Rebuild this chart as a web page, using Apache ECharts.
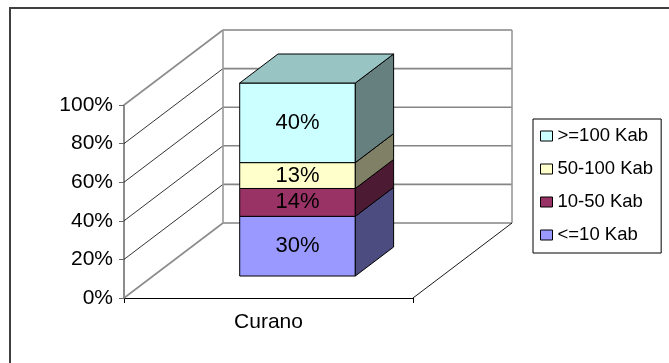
<!DOCTYPE html>
<html>
<head>
<meta charset="utf-8">
<script src="https://cdn.jsdelivr.net/npm/echarts@6/dist/echarts.min.js"></script>
<style>
  html, body { margin: 0; padding: 0; background: #fff; }
  #chart { width: 669px; height: 363px; }
</style>
</head>
<body>
<div id="chart"></div>
<script>
// Share of settlements by size class (100% stacked column)
const categories = ['Curano'];
const seriesNames = ['<=10 Kab', '10-50 Kab', '50-100 Kab', '>=100 Kab'];
const sizeSmall = [30];     // <=10 Kab
const sizeMedium = [14];    // 10-50 Kab
const sizeLarge = [13];     // 50-100 Kab
const sizeBig = [40];       // >=100 Kab
const seriesValues = [sizeSmall, sizeMedium, sizeLarge, sizeBig];
const yTicks = [0, 20, 40, 60, 80, 100];

// Styling
const FONT = '"Liberation Sans", Arial, sans-serif';
const frontColors = ['#9999FF', '#993366', '#FFFFCC', '#CCFFFF'];
const sideColors = ['#4C4C80', '#4D1A33', '#808066', '#668080'];
const topColors = ['#7373BF', '#73264D', '#BFBF99', '#99C4C4'];
const DEPTH = [99, -75];        // oblique projection of the full floor depth
const BAR_FRONT = 0.293;        // depth fraction where the column front sits
const BAR_DEPTH = 0.387;        // column depth as a fraction of floor depth
const BAR_WIDTH = 0.4;          // column width as fraction of the category band

// Build stacked, normalised segments per category
const totals = categories.map((_, ci) => seriesValues.reduce((s, arr) => s + arr[ci], 0));
const cumulative = categories.map(() => 0);
const segmentData = seriesValues.map((arr) =>
  arr.map((v, ci) => {
    const share = v / totals[ci] * 100;
    const start = cumulative[ci];
    cumulative[ci] += share;
    return [ci, start, cumulative[ci], v];
  })
);

function renderWalls(params, api) {
  const band = api.size([1, 0])[0];
  const x0 = api.coord([0, 0])[0] - band / 2;
  const x1 = x0 + band * categories.length;
  const [dx, dy] = DEPTH;
  const yb = api.coord([0, yTicks[0]])[1];
  const yt = api.coord([0, yTicks[yTicks.length - 1]])[1];
  const children = [];
  yTicks.forEach((t, i) => {
    const y = api.coord([0, t])[1];
    const edge = i === 0 || i === yTicks.length - 1;
    children.push({
      type: 'line',
      shape: { x1: x0, y1: y, x2: x0 + dx, y2: y + dy },
      style: { stroke: edge ? '#8c8c8c' : '#000', lineWidth: edge ? 1.6 : 0.8 }
    });
    children.push({
      type: 'line',
      shape: { x1: x0 + dx, y1: y + dy, x2: x1 + dx, y2: y + dy },
      style: { stroke: '#858585', lineWidth: 1.6 }
    });
  });
  children.push({
    type: 'line',
    shape: { x1: x0 + dx, y1: yb + dy, x2: x0 + dx, y2: yt + dy },
    style: { stroke: '#999', lineWidth: 1.6 }
  });
  children.push({
    type: 'line',
    shape: { x1: x1 + dx, y1: yb + dy, x2: x1 + dx, y2: yt + dy },
    style: { stroke: '#999', lineWidth: 1.6 }
  });
  children.push({
    type: 'line',
    shape: { x1: x1, y1: yb, x2: x1 + dx, y2: yb + dy },
    style: { stroke: '#000', lineWidth: 0.9 }
  });
  return { type: 'group', children };
}

function makeSegmentRenderer(si) {
  return function (params, api) {
    const ci = api.value(0);
    const lo = api.value(1);
    const hi = api.value(2);
    const raw = api.value(3);
    const band = api.size([1, 0])[0];
    const cx = api.coord([ci, 0])[0];
    const w = band * BAR_WIDTH;
    const ox = DEPTH[0] * BAR_FRONT, oy = DEPTH[1] * BAR_FRONT;
    const dx = DEPTH[0] * BAR_DEPTH, dy = DEPTH[1] * BAR_DEPTH;
    const xl = cx - w / 2 + ox, xr = cx + w / 2 + ox;
    const yb = api.coord([ci, lo])[1] + oy;
    const yt = api.coord([ci, hi])[1] + oy;
    const edge = { stroke: '#000', lineWidth: 1, lineJoin: 'round' };
    const children = [
      {
        type: 'polygon',
        shape: { points: [[xl, yb], [xr, yb], [xr, yt], [xl, yt]] },
        style: Object.assign({ fill: frontColors[si] }, edge)
      },
      {
        type: 'polygon',
        shape: { points: [[xr, yb], [xr + dx, yb + dy], [xr + dx, yt + dy], [xr, yt]] },
        style: Object.assign({ fill: sideColors[si] }, edge)
      }
    ];
    if (si === seriesValues.length - 1) {
      children.push({
        type: 'polygon',
        shape: { points: [[xl, yt], [xr, yt], [xr + dx, yt + dy], [xl + dx, yt + dy]] },
        style: Object.assign({ fill: topColors[si] }, edge)
      });
    }
    children.push({
      type: 'text',
      style: {
        text: raw + '%',
        x: (xl + xr) / 2,
        y: (yb + yt) / 2,
        align: 'center',
        verticalAlign: 'middle',
        fontSize: 22,
        fontFamily: FONT,
        fill: '#000'
      }
    });
    return { type: 'group', children };
  };
}

const chart = echarts.init(document.getElementById('chart'), null, { renderer: 'canvas' });

const series = [{
  name: 'walls',
  type: 'custom',
  silent: true,
  renderItem: renderWalls,
  encode: { x: 0, y: 1 },
  data: [[0, 0]]
}].concat(seriesNames.map((name, si) => ({
  name,
  type: 'custom',
  renderItem: makeSegmentRenderer(si),
  itemStyle: { color: frontColors[si] },
  encode: { x: 0, y: [1, 2] },
  data: segmentData[si]
})));

chart.setOption({
  animation: false,
  backgroundColor: '#fff',
  textStyle: { fontFamily: FONT },
  graphic: [{
    type: 'rect',
    shape: { x: 10, y: 8, width: 700, height: 420 },
    style: { fill: 'none', stroke: '#404040', lineWidth: 2 },
    silent: true
  }],
  grid: { left: 124, top: 105, width: 289, height: 193 },
  xAxis: {
    type: 'category',
    data: categories,
    axisLine: { lineStyle: { color: '#000', width: 1 } },
    axisTick: { show: true, length: 5, lineStyle: { color: '#000' } },
    axisLabel: { fontSize: 21, color: '#000', margin: 14, fontFamily: FONT },
    splitLine: { show: false }
  },
  yAxis: {
    type: 'value',
    min: 0,
    max: 100,
    interval: 20,
    axisLine: { show: true, lineStyle: { color: '#666', width: 1.5 } },
    axisTick: { show: true, length: 5, lineStyle: { color: '#666' } },
    axisLabel: { fontSize: 21, color: '#000', margin: 11, formatter: '{value}%', fontFamily: FONT },
    splitLine: { show: false }
  },
  legend: {
    orient: 'vertical',
    left: 533,
    top: 119,
    padding: [7, 8, 8, 7],
    itemGap: 13,
    itemWidth: 12,
    itemHeight: 10,
    icon: 'rect',
    borderColor: '#000',
    borderWidth: 1,
    selectedMode: false,
    textStyle: { fontSize: 18.5, color: '#000', fontFamily: FONT, lineHeight: 20 },
    itemStyle: { borderColor: '#000', borderWidth: 1 },
    data: seriesNames.slice().reverse().map((name) => ({
      name,
      itemStyle: { color: frontColors[seriesNames.indexOf(name)], borderColor: '#000', borderWidth: 1 }
    }))
  },
  series
});
</script>
</body>
</html>
